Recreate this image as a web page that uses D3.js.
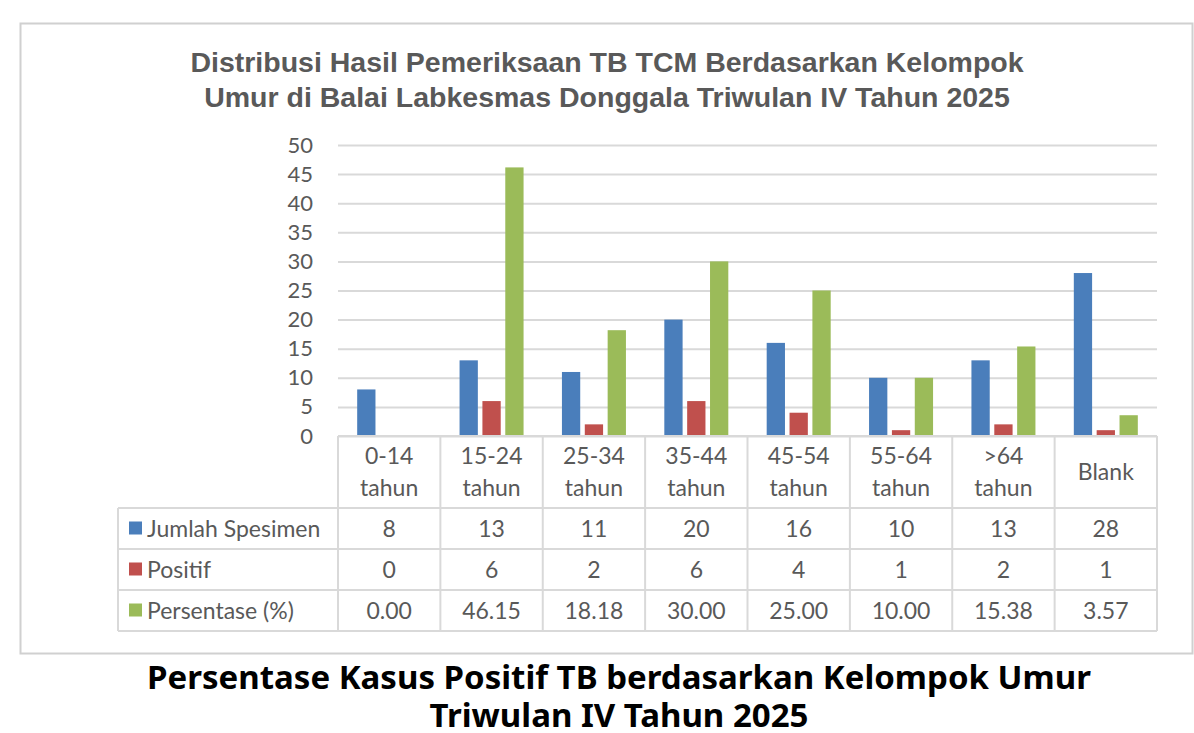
<!DOCTYPE html>
<html lang="id">
<head>
  <meta charset="UTF-8">
  <title>Persentase Kasus Positif TB</title>
  <style>
    body { margin: 0; background: #fff; }
    svg { display: block; }
  </style>
</head>
<body>
  <div id="chart"></div>
  <script src="https://d3js.org/d3.v7.min.js"></script>
  <script>
    // data
    var categories = ['0-14 tahun', '15-24 tahun', '25-34 tahun', '35-44 tahun', '45-54 tahun', '55-64 tahun', '>64 tahun', 'Blank']
    var seriesNames = ['Jumlah Spesimen', 'Positif', 'Persentase (%)']
    var jumlahSpesimen = [8, 13, 11, 20, 16, 10, 13, 28]
    var positif = [0, 6, 2, 6, 4, 1, 2, 1]
    var persentase = [0.00, 46.15, 18.18, 30.00, 25.00, 10.00, 15.38, 3.57]
    var yTicks = [0, 5, 10, 15, 20, 25, 30, 35, 40, 45, 50]
    var seriesValues = [jumlahSpesimen, positif, persentase]
    var seriesFormat = [d3.format('d'), d3.format('d'), d3.format('.2f')]
    var colors = ['#4a7ebb', '#c0504d', '#9bbb59']

    var W = 1194, H = 733
    var plotLeft = 338, plotRight = 1157, plotTop = 145, plotBottom = 436
    var tableLeft = 118
    var rowLines = [436, 508, 549, 590, 631]
    var textColor = '#595959', gridColor = '#d9d9d9'
    var bodyFont = 'Lato, "Open Sans", sans-serif'

    var svg = d3.select('#chart').append('svg')
      .attr('width', W)
      .attr('height', H)

    // outer frame
    svg.append('rect')
      .attr('x', 20.5).attr('y', 23.5)
      .attr('width', 1172).attr('height', 630)
      .attr('fill', '#fff')
      .attr('stroke', '#d0d0d0')
      .attr('stroke-width', 2)

    // chart title
    var title = svg.append('text')
      .attr('text-anchor', 'middle')
      .attr('fill', textColor)
      .style('font-family', '"Liberation Sans", Arial, sans-serif')
      .style('font-weight', 'bold')
      .style('font-size', '28.5px')
    title.append('tspan').attr('x', 607).attr('y', 72)
      .text('Distribusi Hasil Pemeriksaan TB TCM Berdasarkan Kelompok')
    title.append('tspan').attr('x', 607).attr('y', 107)
      .text('Umur di Balai Labkesmas Donggala Triwulan IV Tahun 2025')

    var x0 = d3.scaleBand().domain(categories).range([plotLeft, plotRight])
    var x1 = d3.scaleBand().domain(seriesNames).range([0, 64]).paddingInner(0.2)
    var y = d3.scaleLinear().domain([0, 50]).range([plotBottom, plotTop])

    // gridlines + y labels
    var yAxis = d3.axisLeft(y).tickValues(yTicks).tickSize(-(plotRight - plotLeft)).tickPadding(25)
    var gy = svg.append('g')
      .attr('transform', 'translate(' + plotLeft + ',0)')
      .call(yAxis)
    gy.select('.domain').remove()
    gy.selectAll('.tick line').attr('stroke', gridColor).attr('stroke-width', 2)
    gy.selectAll('.tick text')
      .attr('fill', textColor)
      .style('font-family', bodyFont)
      .style('font-size', '22px')

    // bars
    var groups = svg.append('g').selectAll('g')
      .data(categories)
      .join('g')
      .attr('transform', function (d) {
        return 'translate(' + (x0(d) + (x0.bandwidth() - 64) / 2) + ',0)'
      })
    groups.selectAll('rect')
      .data(function (d, i) {
        return seriesNames.map(function (s, k) { return { s: s, k: k, v: seriesValues[k][i] } })
      })
      .join('rect')
      .attr('x', function (d) { return x1(d.s) })
      .attr('width', x1.bandwidth())
      .attr('y', function (d) { return y(d.v) })
      .attr('height', function (d) { return y(0) - y(d.v) })
      .attr('fill', function (d) { return colors[d.k] })

    // data table
    var table = svg.append('g')
      .attr('stroke', gridColor)
      .attr('stroke-width', 2)
      .attr('fill', 'none')
    rowLines.forEach(function (ly, i) {
      table.append('line')
        .attr('x1', i === 0 ? plotLeft : tableLeft)
        .attr('x2', plotRight)
        .attr('y1', ly).attr('y2', ly)
    })
    table.append('line')
      .attr('x1', tableLeft).attr('x2', tableLeft)
      .attr('y1', rowLines[1]).attr('y2', rowLines[4])
    categories.forEach(function (c) {
      table.append('line')
        .attr('x1', x0(c)).attr('x2', x0(c))
        .attr('y1', rowLines[0]).attr('y2', rowLines[4])
    })
    table.append('line')
      .attr('x1', plotRight).attr('x2', plotRight)
      .attr('y1', rowLines[0]).attr('y2', rowLines[4])

    // category labels
    var catText = svg.append('g')
      .attr('fill', textColor)
      .attr('text-anchor', 'middle')
      .style('font-family', bodyFont)
      .style('font-size', '23px')
    categories.forEach(function (c) {
      var cx = x0(c) + x0.bandwidth() / 2
      var parts = c.split(' ')
      var t = catText.append('text')
      if (parts.length === 1) {
        t.attr('x', cx).attr('y', 480).text(c)
      } else {
        t.append('tspan').attr('x', cx).attr('y', 464).text(parts[0])
        t.append('tspan').attr('x', cx).attr('y', 496).text(parts[1])
      }
    })

    // series rows
    seriesNames.forEach(function (s, k) {
      var top = rowLines[k + 1], bottom = rowLines[k + 2]
      var mid = (top + bottom) / 2
      svg.append('rect')
        .attr('x', 129).attr('y', mid - 7)
        .attr('width', 13).attr('height', 13)
        .attr('fill', colors[k])
      svg.append('text')
        .attr('x', 147).attr('y', mid + 8)
        .attr('fill', textColor)
        .style('font-family', bodyFont)
        .style('font-size', '23px')
        .text(s)
      svg.append('g').selectAll('text')
        .data(seriesValues[k])
        .join('text')
        .attr('x', function (d, i) { return x0(categories[i]) + x0.bandwidth() / 2 })
        .attr('y', mid + 8)
        .attr('text-anchor', 'middle')
        .attr('fill', textColor)
        .style('font-family', bodyFont)
        .style('font-size', '23px')
        .text(function (d) { return seriesFormat[k](d) })
    })

    // caption below the chart
    var caption = svg.append('text')
      .attr('text-anchor', 'middle')
      .attr('fill', '#000')
      .style('font-family', '"Noto Sans", sans-serif')
      .style('font-weight', 'bold')
      .style('font-size', '33px')
    caption.append('tspan').attr('x', 619).attr('y', 689)
      .text('Persentase Kasus Positif TB berdasarkan Kelompok Umur')
    caption.append('tspan').attr('x', 619).attr('y', 727)
      .text('Triwulan IV Tahun 2025')
  </script>
</body>
</html>
